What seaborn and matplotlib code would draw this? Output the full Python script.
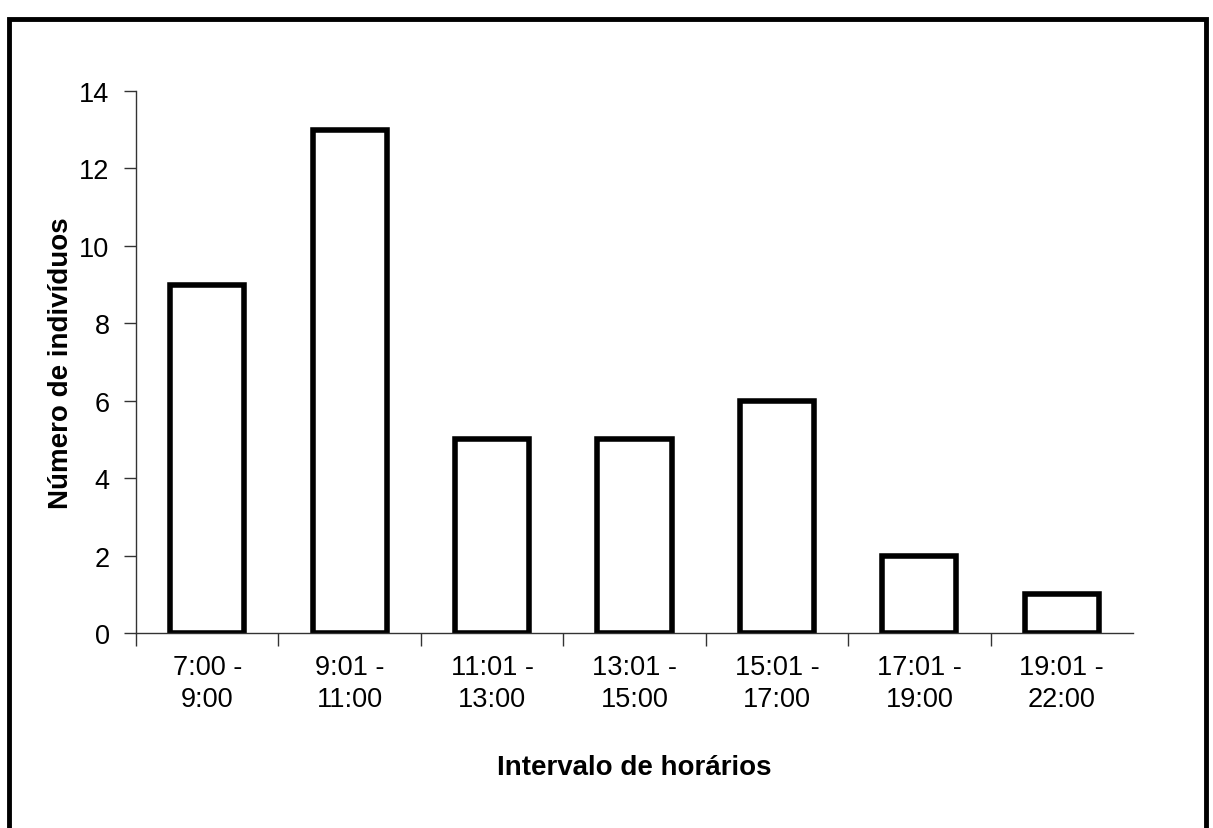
import numpy as np
import pandas as pd
import seaborn as sns
import matplotlib.pyplot as plt
from matplotlib.patches import Rectangle

# Data
intervals = ['7:00 -\n9:00', '9:01 -\n11:00', '11:01 -\n13:00', '13:01 -\n15:00',
             '15:01 -\n17:00', '17:01 -\n19:00', '19:01 -\n22:00']
individuals = [9, 13, 5, 5, 6, 2, 1]
y_ticks = [0, 2, 4, 6, 8, 10, 12, 14]

df = pd.DataFrame({'Intervalo': intervals, 'Individuos': individuals})

sns.set_style('white')
plt.rcParams['font.family'] = ['Liberation Sans', 'DejaVu Sans']
plt.rcParams['text.color'] = 'black'
plt.rcParams['axes.labelcolor'] = 'black'
plt.rcParams['xtick.color'] = 'black'
plt.rcParams['ytick.color'] = 'black'

fig = plt.figure(figsize=(12.13, 8.29), dpi=100)
ax = fig.add_axes([0.1121, 0.2352, 0.822, 0.6538])

sns.barplot(data=df, x='Intervalo', y='Individuos', color='white',
            edgecolor='black', linewidth=4, width=0.52, ax=ax)

ax.set_xlim(-0.5, 6.5)
ax.set_ylim(0, 14)
ax.set_yticks(y_ticks)
ax.set_yticklabels([str(v) for v in y_ticks], fontsize=19.5)

# ticks between categories, labels at the centres
ax.set_xticks(np.arange(-0.5, 6.0, 1.0))
ax.set_xticklabels([])
ax.set_xticks(np.arange(len(intervals)), minor=True)
ax.set_xticklabels(intervals, minor=True, fontsize=19.5, linespacing=1.3)
ax.tick_params(axis='x', which='major', bottom=True, length=9, width=1,
               color='#333333', direction='out')
ax.tick_params(axis='x', which='minor', bottom=True, length=0, pad=15)
ax.tick_params(axis='y', left=True, length=9, width=1, color='#333333',
               direction='out', pad=10)

for side in ['top', 'right']:
    ax.spines[side].set_visible(False)
for side in ['left', 'bottom']:
    ax.spines[side].set_linewidth(1)
    ax.spines[side].set_color('#333333')

ax.set_xlabel('Intervalo de horários', fontsize=20, fontweight='bold', labelpad=30)
ax.set_ylabel('Número de indivíduos', fontsize=20, fontweight='bold', labelpad=4)
ax.grid(False)

# outer frame like the original picture
fig.patches.append(Rectangle((0.0075, -0.02), 0.987, 0.996, transform=fig.transFigure,
                             fill=False, edgecolor='black', linewidth=3.5))

fig.savefig('out.png', dpi=100, facecolor='white')
